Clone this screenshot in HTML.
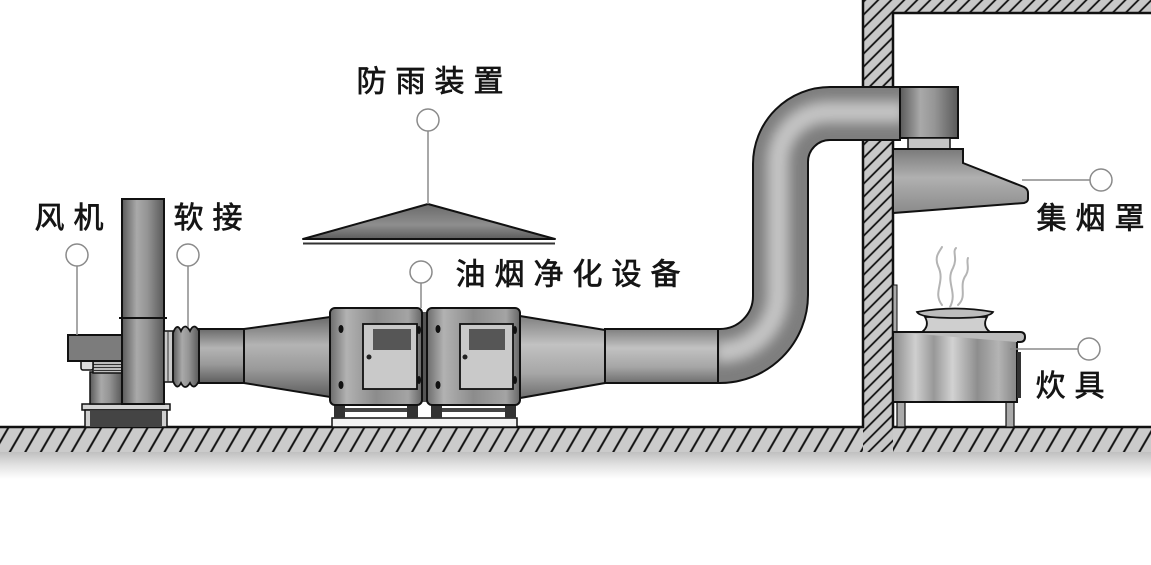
<!DOCTYPE html>
<html><head><meta charset="utf-8"><style>
html,body{margin:0;padding:0;background:#fff;}
svg{display:block;}
text{font-family:"Liberation Sans","Noto Sans CJK SC",sans-serif;font-size:30px;fill:#151515;stroke:#151515;stroke-width:0.7px;letter-spacing:9px;}
</style></head><body>
<svg width="1151" height="565" viewBox="0 0 1151 565" xmlns="http://www.w3.org/2000/svg">
<defs>
<pattern id="floorHatch" patternUnits="userSpaceOnUse" width="13.4" height="20" patternTransform="rotate(30)">
<rect width="13.4" height="20" fill="#cbcbcb"/><line x1="6.7" y1="0" x2="6.7" y2="20" stroke="#111" stroke-width="2"/>
</pattern>
<pattern id="wallHatch" patternUnits="userSpaceOnUse" width="9.2" height="20" patternTransform="rotate(45)">
<rect width="9.2" height="20" fill="#c8c8c8"/><line x1="4.6" y1="0" x2="4.6" y2="20" stroke="#111" stroke-width="1.8"/>
</pattern>
<linearGradient id="gV" x1="0" y1="0" x2="1" y2="0">
<stop offset="0" stop-color="#5a5a5a"/><stop offset="0.35" stop-color="#a9a9a9"/><stop offset="0.6" stop-color="#959595"/><stop offset="1" stop-color="#595959"/>
</linearGradient>
<linearGradient id="gH" x1="0" y1="0" x2="0" y2="1">
<stop offset="0" stop-color="#6a6a6a"/><stop offset="0.35" stop-color="#b4b4b4"/><stop offset="0.65" stop-color="#9a9a9a"/><stop offset="1" stop-color="#5e5e5e"/>
</linearGradient>
<linearGradient id="gH2" x1="0" y1="0" x2="0" y2="1">
<stop offset="0" stop-color="#808080"/><stop offset="0.35" stop-color="#c2c2c2"/><stop offset="0.7" stop-color="#a6a6a6"/><stop offset="1" stop-color="#6e6e6e"/>
</linearGradient>
<linearGradient id="gBox" x1="0" y1="0" x2="1" y2="0">
<stop offset="0" stop-color="#6c6c6c"/><stop offset="0.18" stop-color="#b2b2b2"/><stop offset="0.5" stop-color="#8c8c8c"/><stop offset="0.85" stop-color="#a4a4a4"/><stop offset="1" stop-color="#666"/>
</linearGradient>
<linearGradient id="gHood" x1="0" y1="0" x2="0" y2="1">
<stop offset="0" stop-color="#7a7a7a"/><stop offset="0.45" stop-color="#b0b0b0"/><stop offset="1" stop-color="#8a8a8a"/>
</linearGradient>
<linearGradient id="gStove" x1="0" y1="0" x2="1" y2="0">
<stop offset="0" stop-color="#8a8a8a"/><stop offset="0.18" stop-color="#cfcfcf"/><stop offset="0.33" stop-color="#989898"/><stop offset="0.48" stop-color="#d2d2d2"/><stop offset="0.68" stop-color="#8e8e8e"/><stop offset="0.85" stop-color="#b4b4b4"/><stop offset="1" stop-color="#858585"/>
</linearGradient>
<linearGradient id="gRain" x1="0" y1="0" x2="0" y2="1">
<stop offset="0" stop-color="#6a6a6a"/><stop offset="0.6" stop-color="#8e8e8e"/><stop offset="1" stop-color="#5c5c5c"/>
</linearGradient>
<linearGradient id="gShadow" x1="0" y1="0" x2="0" y2="1">
<stop offset="0" stop-color="#bdbdbd"/><stop offset="0.5" stop-color="#e2e2e2"/><stop offset="1" stop-color="#ffffff"/>
</linearGradient>
<filter id="blur6" x="-20%" y="-20%" width="140%" height="140%"><feGaussianBlur stdDeviation="6"/></filter>
<clipPath id="sClip"><path d="M718,383 L720,383 A88,88 0 0 0 808,295 L808,162 A22,22 0 0 1 830,140 L900,140 L900,87 L830,87 A77,77 0 0 0 753,164 L753,296 A33,33 0 0 1 720,329 L718,329 Z"/></clipPath>
</defs>

<!-- ground shadow -->
<rect x="0" y="451" width="1151" height="28" fill="url(#gShadow)"/>
<!-- floor -->
<rect x="0" y="427" width="1151" height="25" fill="url(#floorHatch)"/>
<!-- wall & ceiling -->
<rect x="863" y="0" width="30" height="452" fill="url(#wallHatch)"/>
<rect x="893" y="0" width="258" height="13" fill="url(#wallHatch)"/>
<line x1="863" y1="0" x2="863" y2="428" stroke="#111" stroke-width="2.5"/>
<line x1="893" y1="12" x2="893" y2="428" stroke="#111" stroke-width="2.5"/>
<line x1="892" y1="13" x2="1151" y2="13" stroke="#111" stroke-width="2.5"/>
<line x1="0" y1="427" x2="864" y2="427" stroke="#111" stroke-width="2.5"/>
<line x1="892" y1="427" x2="1151" y2="427" stroke="#111" stroke-width="2.5"/>

<!-- FAN -->
<rect x="82" y="404" width="88" height="6" fill="#d4d4d4" stroke="#111" stroke-width="1.5"/>
<rect x="85" y="410" width="82" height="17" fill="#cfcfcf" stroke="#111" stroke-width="1.5"/>
<rect x="90" y="411" width="72" height="16" fill="#444"/>
<rect x="90" y="372" width="32" height="32" fill="url(#gV)" stroke="#111" stroke-width="1.5"/>
<rect x="93" y="361" width="29" height="12" fill="#bdbdbd" stroke="#111" stroke-width="1.5"/>
<line x1="93" y1="364.5" x2="122" y2="364.5" stroke="#333" stroke-width="1"/>
<line x1="93" y1="367.5" x2="122" y2="367.5" stroke="#333" stroke-width="1"/>
<line x1="93" y1="370.5" x2="122" y2="370.5" stroke="#333" stroke-width="1"/>
<rect x="81" y="360" width="12" height="10" rx="2" fill="#ddd" stroke="#111" stroke-width="1.5"/>
<rect x="68" y="335" width="54" height="26" fill="#7c7c7c" stroke="#111" stroke-width="2"/>
<rect x="122" y="199" width="42" height="205" fill="url(#gV)" stroke="#111" stroke-width="2"/>
<line x1="119" y1="318" x2="167" y2="318" stroke="#111" stroke-width="2"/>

<!-- flex connector -->
<rect x="164" y="331" width="9" height="51" fill="#cacaca" stroke="#111" stroke-width="1.5"/>
<line x1="168" y1="331" x2="168" y2="382" stroke="#333" stroke-width="1"/>
<path d="M173,333 Q177,322 181,331 Q185,322 190,331 Q194,322 199,331 L199,381 Q194,391 190,383 Q185,391 181,383 Q177,391 173,381 Z" fill="url(#gV)" stroke="#111" stroke-width="1.8"/>

<!-- inlet duct + cone -->
<rect x="199" y="329" width="45" height="54" fill="url(#gH)" stroke="#111" stroke-width="2"/>
<path d="M244,329 L330,317 L330,397 L244,383 Z" fill="url(#gH)" stroke="#111" stroke-width="2"/>

<!-- outlet cone + duct -->
<path d="M520,316 L605,330 L605,383 L520,398 Z" fill="url(#gH2)" stroke="#111" stroke-width="2"/>
<rect x="605" y="329" width="115" height="54" fill="url(#gH2)" stroke="#111" stroke-width="2"/>

<!-- S bend duct -->
<g clip-path="url(#sClip)">
<rect x="700" y="80" width="210" height="310" fill="#7e7e7e"/>
<path d="M715,352 L722,352 A58,58 0 0 0 778,294 L778,162 A50,50 0 0 1 828,112 L905,112" fill="none" stroke="#c4c4c4" stroke-width="22" filter="url(#blur6)"/>
</g>
<path d="M718,383 L720,383 A88,88 0 0 0 808,295 L808,162 A22,22 0 0 1 830,140 L900,140 L900,87 L830,87 A77,77 0 0 0 753,164 L753,296 A33,33 0 0 1 720,329 L718,329 Z" fill="none" stroke="#111" stroke-width="2"/>
<line x1="718" y1="329" x2="718" y2="383" stroke="#111" stroke-width="2"/>
<rect x="900" y="87" width="58" height="51" fill="url(#gV)" stroke="#111" stroke-width="2"/>

<!-- purifier boxes -->
<rect x="332" y="418" width="185" height="9" fill="#f2f2f2" stroke="#111" stroke-width="1.5"/>
<rect x="334" y="405" width="11" height="13" fill="#333"/>
<rect x="407" y="405" width="11" height="13" fill="#333"/>
<rect x="431" y="405" width="11" height="13" fill="#333"/>
<rect x="505" y="405" width="11" height="13" fill="#333"/>
<rect x="345" y="408" width="62" height="4" fill="#444"/>
<rect x="442" y="408" width="63" height="4" fill="#444"/>
<rect x="422" y="312" width="5" height="90" fill="#555"/>
<rect x="330" y="308" width="92" height="97" rx="5" fill="url(#gBox)" stroke="#111" stroke-width="2"/>
<rect x="427" y="308" width="93" height="97" rx="5" fill="url(#gBox)" stroke="#111" stroke-width="2"/>
<rect x="363" y="324" width="54" height="65" fill="#c9c9c9" stroke="#111" stroke-width="1.8"/>
<rect x="373" y="329" width="38" height="21" fill="#565656"/>
<circle cx="369" cy="357" r="2.5" fill="#222"/>
<rect x="460" y="324" width="53" height="65" fill="#c9c9c9" stroke="#111" stroke-width="1.8"/>
<rect x="469" y="329" width="36" height="21" fill="#565656"/>
<circle cx="465" cy="357" r="2.5" fill="#222"/>
<ellipse cx="341" cy="329" rx="2.5" ry="4" fill="#111"/>
<ellipse cx="341" cy="385" rx="2.5" ry="4" fill="#111"/>
<ellipse cx="419" cy="330" rx="2" ry="4" fill="#111"/>
<ellipse cx="419" cy="380" rx="2" ry="4" fill="#111"/>
<ellipse cx="438" cy="329" rx="2.5" ry="4" fill="#111"/>
<ellipse cx="438" cy="385" rx="2.5" ry="4" fill="#111"/>
<ellipse cx="515" cy="330" rx="2" ry="4" fill="#111"/>
<ellipse cx="515" cy="380" rx="2" ry="4" fill="#111"/>

<!-- rain cover -->
<path d="M303,239 L428,204 L555,239 Z" fill="url(#gRain)" stroke="#111" stroke-width="2" stroke-linejoin="round"/>
<line x1="303" y1="243.5" x2="555" y2="243.5" stroke="#333" stroke-width="2"/>

<!-- hood -->
<rect x="908" y="138" width="42" height="11" fill="#c4c4c4" stroke="#111" stroke-width="1.5"/>
<path d="M893,149 L963,149 L963,163 L1024,187 Q1028,189 1028,193 L1028,199 Q1028,202 1024,203 L893,213 Z" fill="url(#gHood)" stroke="#111" stroke-width="2"/>

<!-- stove -->
<rect x="893" y="285" width="4" height="47" fill="#aaa" stroke="#111" stroke-width="1"/>
<rect x="897" y="402" width="8" height="25" fill="#aaa" stroke="#111" stroke-width="1.2"/>
<rect x="1006" y="402" width="8" height="25" fill="#aaa" stroke="#111" stroke-width="1.2"/>
<rect x="893" y="332" width="124" height="70" fill="url(#gStove)" stroke="#111" stroke-width="2"/>
<path d="M893,332 L1020,332 Q1025,332 1025,337 Q1025,342 1020,342 L1017,342" fill="#bbb" stroke="#111" stroke-width="2"/>
<rect x="1017" y="352" width="4" height="46" fill="#333"/>
<path d="M925,317 Q930,326 922,332 L990,332 Q982,326 987,317 Z" fill="#cfcfcf" stroke="#111" stroke-width="1.8"/>
<path d="M917,312 Q955,305 993,312 Q990,318 955,318 Q920,318 917,312 Z" fill="#bdbdbd" stroke="#111" stroke-width="1.8"/>
<g fill="none" stroke="#b4b4b4" stroke-width="2" stroke-linecap="round">
<path d="M942,305 C932,292 946,282 938,266 C934,256 940,251 942,247"/>
<path d="M950,307 C958,292 945,282 953,268 C958,258 952,252 956,248"/>
<path d="M958,305 C968,296 958,286 966,275 C970,268 966,262 968,258"/>
</g>

<!-- label connectors -->
<g stroke="#8a8a8a" stroke-width="1.5" fill="#fff">
<line x1="77" y1="266" x2="77" y2="335"/>
<circle cx="77" cy="255" r="11"/>
<line x1="188" y1="266" x2="188" y2="327"/>
<circle cx="188" cy="255" r="11"/>
<line x1="428" y1="131" x2="428" y2="204"/>
<circle cx="428" cy="120" r="11"/>
<line x1="421" y1="283" x2="421" y2="308"/>
<circle cx="421" cy="272" r="11"/>
<line x1="1022" y1="180" x2="1090" y2="180"/>
<circle cx="1101" cy="180" r="11"/>
<line x1="1010" y1="349" x2="1078" y2="349"/>
<circle cx="1089" cy="349" r="11"/>
</g>

<!-- labels -->
<text x="34.5" y="228">风机</text>
<text x="173.5" y="228">软接</text>
<text x="356.5" y="91.5">防雨装置</text>
<text x="455.5" y="284.5">油烟净化设备</text>
<text x="1036.5" y="228.5">集烟罩</text>
<text x="1035.5" y="396">炊具</text>
</svg>
</body></html>
